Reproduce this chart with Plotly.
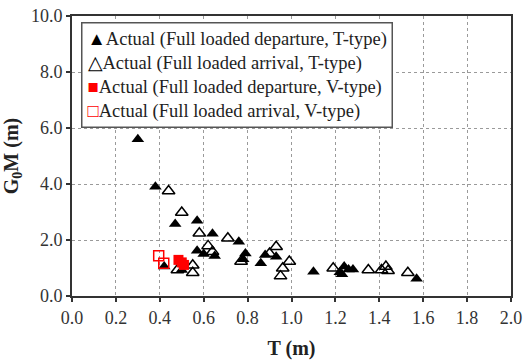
import plotly.graph_objects as go

# T-type, full loaded departure (filled black triangles)
dep_T_x = [0.30, 0.38, 0.47, 0.57, 0.64, 0.76, 0.57, 0.60, 0.65, 0.79, 0.78, 0.86, 0.88, 0.93,
           0.42, 0.50, 1.10, 1.22, 1.24, 1.26, 1.23, 1.28, 1.57]
dep_T_y = [5.60, 3.90, 2.57, 2.69, 2.22, 1.94, 1.62, 1.50, 1.43, 1.52, 1.31, 1.17, 1.46, 1.40,
           1.05, 0.93, 0.87, 0.85, 1.05, 0.95, 0.78, 0.95, 0.62]

# T-type, full loaded arrival (open black triangles)
arr_T_x = [0.44, 0.50, 0.58, 0.71, 0.62, 0.64, 0.77, 0.90, 0.93, 0.99, 0.96, 0.95,
           0.48, 0.55, 0.55, 1.19, 1.35, 1.41, 1.43, 1.44, 1.53]
arr_T_y = [3.75, 2.98, 2.24, 2.06, 1.79, 1.58, 1.23, 1.52, 1.76, 1.23, 0.99, 0.71,
           0.93, 0.83, 1.10, 0.99, 0.93, 0.93, 1.05, 0.90, 0.83]

# V-type, full loaded departure (filled red squares)
dep_V_x = [0.485, 0.50, 0.51]
dep_V_y = [1.29, 1.20, 1.11]

# V-type, full loaded arrival (open red squares)
arr_V_x = [0.395, 0.418]
arr_V_y = [1.44, 1.17]

series_names = [
    "Actual (Full loaded departure, T-type)",
    "Actual (Full loaded arrival, T-type)",
    "Actual (Full loaded departure, V-type)",
    "Actual (Full loaded arrival, V-type)",
]
legend_glyphs = ["▲", "△", "■", "□"]
legend_glyph_colors = ["black", "black", "red", "red"]

x_ticks = [0.0, 0.2, 0.4, 0.6, 0.8, 1.0, 1.2, 1.4, 1.6, 1.8, 2.0]
y_ticks = [0.0, 2.0, 4.0, 6.0, 8.0, 10.0]

serif = "Liberation Serif, Times New Roman, serif"

fig = go.Figure()
fig.add_trace(go.Scatter(x=dep_T_x, y=dep_T_y, mode="markers", name=series_names[0],
                         marker=dict(symbol="triangle-up", size=11, color="black",
                                     line=dict(width=0))))
fig.add_trace(go.Scatter(x=arr_T_x, y=arr_T_y, mode="markers", name=series_names[1],
                         marker=dict(symbol="triangle-up-open", size=11, color="black",
                                     line=dict(width=1.5))))
fig.add_trace(go.Scatter(x=dep_V_x, y=dep_V_y, mode="markers", name=series_names[2],
                         marker=dict(symbol="square", size=10, color="red",
                                     line=dict(width=0))))
fig.add_trace(go.Scatter(x=arr_V_x, y=arr_V_y, mode="markers", name=series_names[3],
                         marker=dict(symbol="square-open", size=10, color="red",
                                     line=dict(width=1.5))))

axis_common = dict(
    showline=True, linecolor="#333333", linewidth=2, mirror=True,
    ticks="outside", ticklen=4, tickcolor="#333333", tickwidth=1.5,
    showgrid=True, gridcolor="#9a9a9a", griddash="dot", gridwidth=1,
    zeroline=False, automargin=False,
    tickfont=dict(family=serif, size=18, color="#333333"),
    tickformat=".1f",
)

fig.update_xaxes(range=[0, 2.0], tickvals=x_ticks, **axis_common,
                 title=dict(text="<b>T (m)</b>", font=dict(family=serif, size=20, color="#222"),
                            standoff=14))
fig.update_yaxes(range=[0, 10.0], tickvals=y_ticks, **axis_common,
                 title=dict(text="<b>G<sub>0</sub>M (m)</b>",
                            font=dict(family=serif, size=20, color="#222"), standoff=8))

legend_lines = [
    f"<span style='color:{c}'>{g}</span>{n}"
    for g, c, n in zip(legend_glyphs, legend_glyph_colors, series_names)
]
fig.add_annotation(
    xref="paper", yref="paper", x=0.0205, y=0.978, xanchor="left", yanchor="top",
    text="<br>".join(legend_lines), align="left", showarrow=False,
    font=dict(family=serif, size=18.5, color="#222"),
    bgcolor="white", bordercolor="#555555", borderwidth=1.5, borderpad=5,
)

fig.update_layout(
    width=525, height=362,
    margin=dict(l=72, r=14, t=16, b=66),
    paper_bgcolor="white", plot_bgcolor="white",
    showlegend=False,
)

fig.write_html("out.html")
